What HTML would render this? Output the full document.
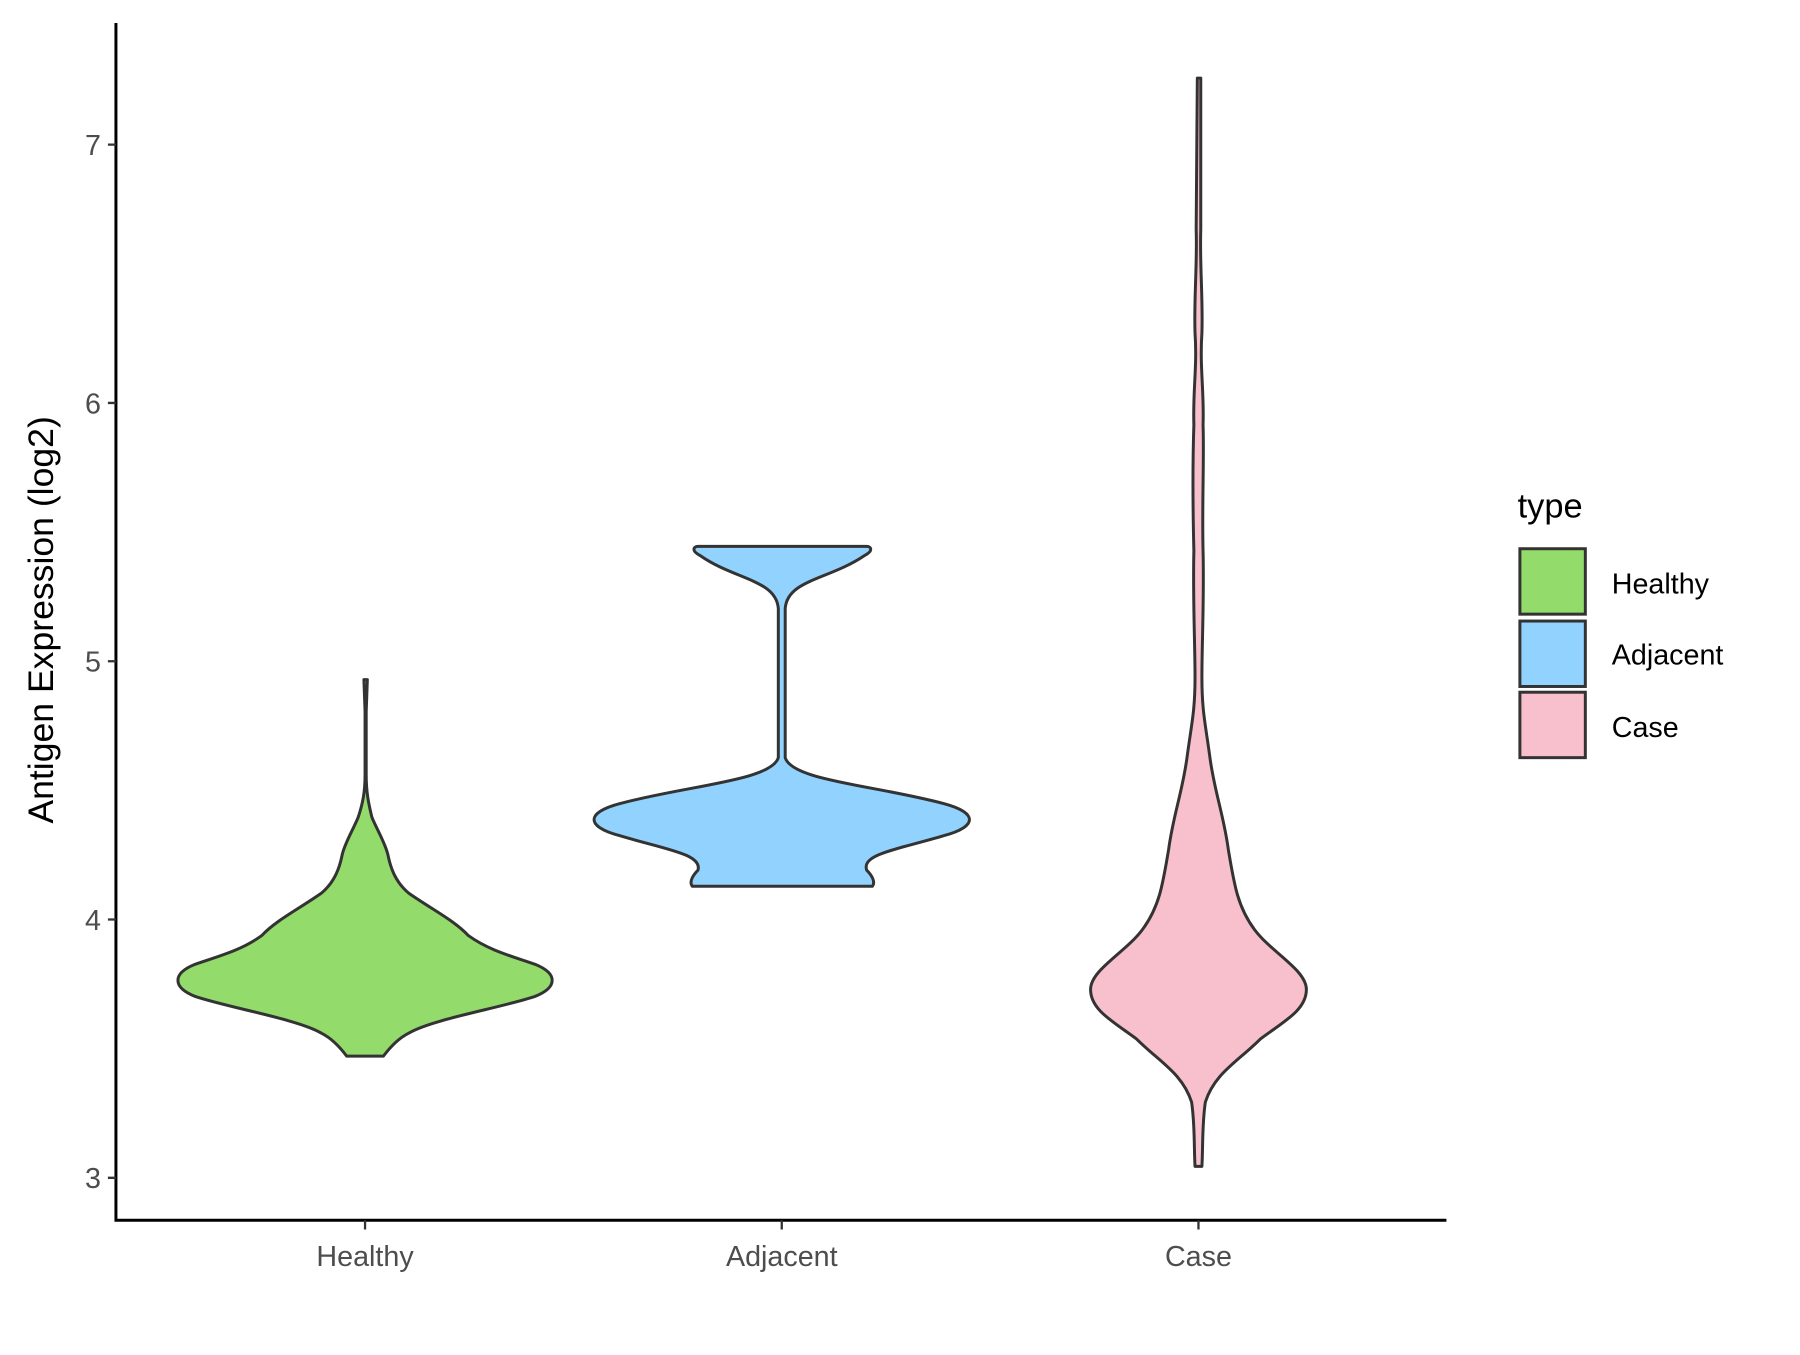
<!DOCTYPE html>
<html><head><style>html,body{margin:0;padding:0;background:#fff}</style></head>
<body>
<svg width="1800" height="1350" viewBox="0 0 1568 1176" xmlns="http://www.w3.org/2000/svg" font-family="Liberation Sans, Arial, sans-serif">
<rect width="1568" height="1176" fill="#fff"/>
<g stroke="#333" stroke-width="2.6" stroke-linejoin="round">
<path fill="#93dc6b" d="M302,920 C296,912 288,904 280,900 C260,888 200,878 170,868 C150,860 150,848 170,840 C190,833 210,828 228,815 C240,802 260,792 280,778 C292,768 296,755 298,745 C300,735 308,722 312,712 C316,700 318,690 318,675 L318,620 L317,592 L320,592 L319,620 L319,675 C319,690 321,700 324,712 C328,722 336,735 338,745 C340,755 344,768 356,778 C376,792 396,802 408,815 C426,828 446,833 466,840 C486,848 486,860 466,868 C436,878 376,888 356,900 C348,904 340,912 334,920 Z"/>
<path fill="#92d2fe" d="M603,772 C600,768 604,762 608,758 C612,744 580,740 540,728 C510,720 510,708 540,700 C600,684 672,680 678,660 L678,530 C676,505 640,505 610,484 C602,480 604,476 608,476 L755,476 C759,476 761,480 753,484 C722,505 686,505 684,530 L684,660 C690,680 762,684 822,700 C852,708 852,720 822,728 C782,740 750,744 755,758 C759,762 763,768 760,772 Z"/>
<path fill="#f8c0cc" d="M1041,1016 C1040,1000 1041,980 1038,960 C1030,935 1010,925 990,905 C970,890 950,880 950,862 C950,845 980,830 995,810 C1010,790 1013,770 1018,740 C1022,710 1030,690 1034,660 C1038,630 1041,620 1041,590 C1041,560 1039,520 1040,480 C1039,440 1039,400 1040,370 C1039,340 1043,320 1041,290 C1040,260 1043,230 1042,200 L1043,68 L1046,68 L1046,200 C1045,230 1048,260 1047,290 C1045,320 1049,340 1048,370 C1049,400 1047,440 1048,480 C1049,520 1047,560 1047,590 C1047,620 1050,630 1054,660 C1058,690 1066,710 1070,740 C1075,770 1078,790 1093,810 C1108,830 1138,845 1138,862 C1138,880 1118,890 1098,905 C1078,925 1058,935 1050,960 C1047,980 1048,1000 1047,1016 Z"/>
</g>
<g stroke="#000" stroke-width="2.6" fill="none">
<path d="M101,20 L101,1063 L1260,1063"/>
</g>
<g stroke="#333" stroke-width="2">
<path d="M94,1026H101M94,801H101M94,576H101M94,351H101M94,126H101"/>
<path d="M318,1063V1071M681,1063V1071M1044,1063V1071"/>
</g>
<g fill="#4d4d4d" font-size="25">
<g text-anchor="end"><text x="88" y="1035">3</text><text x="88" y="810">4</text><text x="88" y="585">5</text><text x="88" y="360">6</text><text x="88" y="135">7</text></g>
<g text-anchor="middle"><text x="318" y="1103">Healthy</text><text x="681" y="1103">Adjacent</text><text x="1044" y="1103">Case</text></g>
</g>
<text transform="translate(46,540) rotate(-90)" text-anchor="middle" font-size="31" fill="#000">Antigen Expression (log2)</text>
<text x="1322" y="451" font-size="30" fill="#000">type</text>
<g stroke="#333" stroke-width="2.6">
<rect x="1324" y="478" width="57" height="57" fill="#93dc6b"/>
<rect x="1324" y="541" width="57" height="57" fill="#92d2fe"/>
<rect x="1324" y="603" width="57" height="57" fill="#f8c0cc"/>
</g>
<g font-size="25" fill="#000">
<text x="1404" y="517">Healthy</text><text x="1404" y="579">Adjacent</text><text x="1404" y="642">Case</text>
</g>
</svg>
</body></html>
